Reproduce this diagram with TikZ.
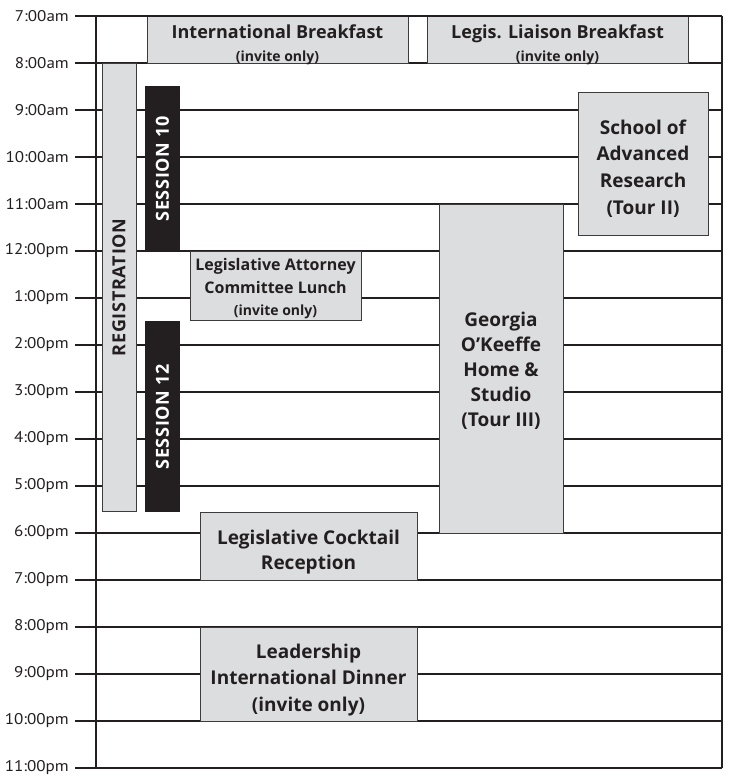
\documentclass[tikz,border=0pt]{standalone}
\usepackage{fontspec}
\setmainfont{Open Sans}
\newfontfamily\timefont[FakeStretch=1.1]{PT Sans}
\newfontfamily\capsfont[LetterSpace=4]{Open Sans}
\usetikzlibrary{fit, positioning}
\definecolor{ink}{HTML}{231F20}
\definecolor{boxgray}{HTML}{DCDDDF}
\definecolor{edgegray}{HTML}{3C3C3C}
\tikzset{
  hourline/.style={line width=2pt, draw=ink},
  frameline/.style={line width=2.5pt, draw=ink},
  evt/.style={draw=edgegray, fill=boxgray, line width=0.9pt, inner sep=0pt},
  evttxt/.style={inner sep=0pt, align=center, text=ink, yshift=-5pt,
    font=\bfseries\fontsize{19}{26.5}\selectfont},
  sess/.style={fill=ink, inner sep=0pt},
  vlabel/.style={rotate=90, inner sep=0pt, font=\capsfont\bfseries\fontsize{18}{20}\selectfont},
  timelabel/.style={anchor=east, inner sep=0pt, text=ink, font=\timefont\fontsize{15.5}{18}\selectfont}
}

\begin{document}
\begin{tikzpicture}[x=1pt, y=-47pt]
    \useasboundingbox (0,-0.34) rectangle (730,16.17);
    \foreach \t [count=\i from 0] in {7:00am,8:00am,9:00am,10:00am,11:00am,12:00pm,1:00pm,2:00pm,
        3:00pm,4:00pm,5:00pm,6:00pm,7:00pm,8:00pm,9:00pm,10:00pm,11:00pm} {
        \node[timelabel] (t\i) at (69,\i) {\t};
        \draw[hourline] (75,\i) -- (722,\i);
    }
    \node[evt, fit={(147,0) (408,1)}] (intlbf) {};
    \node[evttxt, font=\bfseries\fontsize{18}{23}\selectfont] (intlbftxt) at (intlbf)
        {International Breakfast\\{\fontsize{14}{14}\selectfont (invite only)}};
    \node[evt, fit={(427,0) (688,1)}] (liaisonbf) {};
    \node[evttxt, font=\bfseries\fontsize{18}{23}\selectfont] (liaisonbftxt) at (liaisonbf)
        {Legis. Liaison Breakfast\\{\fontsize{14}{14}\selectfont (invite only)}};
    \node[evt, fit={(102,1) (136,10.55)}] (reg) {};
    \node[vlabel, text=ink] (regtxt) at (reg) {REGISTRATION};
    \node[sess, fit={(145,1.5) (180,5)}] (s10) {};
    \node[vlabel, text=white] (s10txt) at (s10) {SESSION 10};
    \node[sess, fit={(145,6.5) (180,10.55)}] (s12) {};
    \node[vlabel, text=white] (s12txt) at (s12) {SESSION 12};
    \node[evt, fit={(190,5) (361,6.48)}] (lunch) {};
    \node[evttxt, yshift=2pt, font=\bfseries\fontsize{16}{22.5}\selectfont] (lunchtxt) at (lunch)
        {Legislative Attorney\\Committee Lunch\\{\fontsize{14}{14}\selectfont (invite only)}};
    \node[evt, fit={(578,1.63) (708,4.67)}] (sar) {};
    \node[evttxt, yshift=0.5pt, font=\bfseries\fontsize{19}{26.7}\selectfont] (sartxt) at (sar)
        {School of\\Advanced\\Research\\(Tour II)};
    \node[evt, fit={(439,4) (563,11)}] (okeeffe) {};
    \node[evttxt, yshift=3pt, font=\bfseries\fontsize{19}{25}\selectfont] (okeeffetxt) at (okeeffe)
        {Georgia\\O'Keeffe\\Home \&\\Studio\\(Tour III)};
    \node[evt, fit={(200,10.57) (417,12)}] (cocktail) {};
    \node[evttxt, yshift=-1pt, font=\bfseries\fontsize{19}{25}\selectfont] (cocktailtxt) at (cocktail)
        {Legislative Cocktail\\Reception};
    \node[evt, fit={(200,13) (417,15)}] (dinner) {};
    \node[evttxt, yshift=-1pt] (dinnertxt) at (dinner) {Leadership\\International Dinner\\(invite only)};
    \draw[frameline] (75,0) -- (722,0);
    \draw[frameline] (75,16) -- (722,16);
    \draw[line width=1.5pt, draw=ink] (96,0) -- (96,16);
    \draw[frameline] (722,0) -- (722,16);
\end{tikzpicture}
\end{document}
